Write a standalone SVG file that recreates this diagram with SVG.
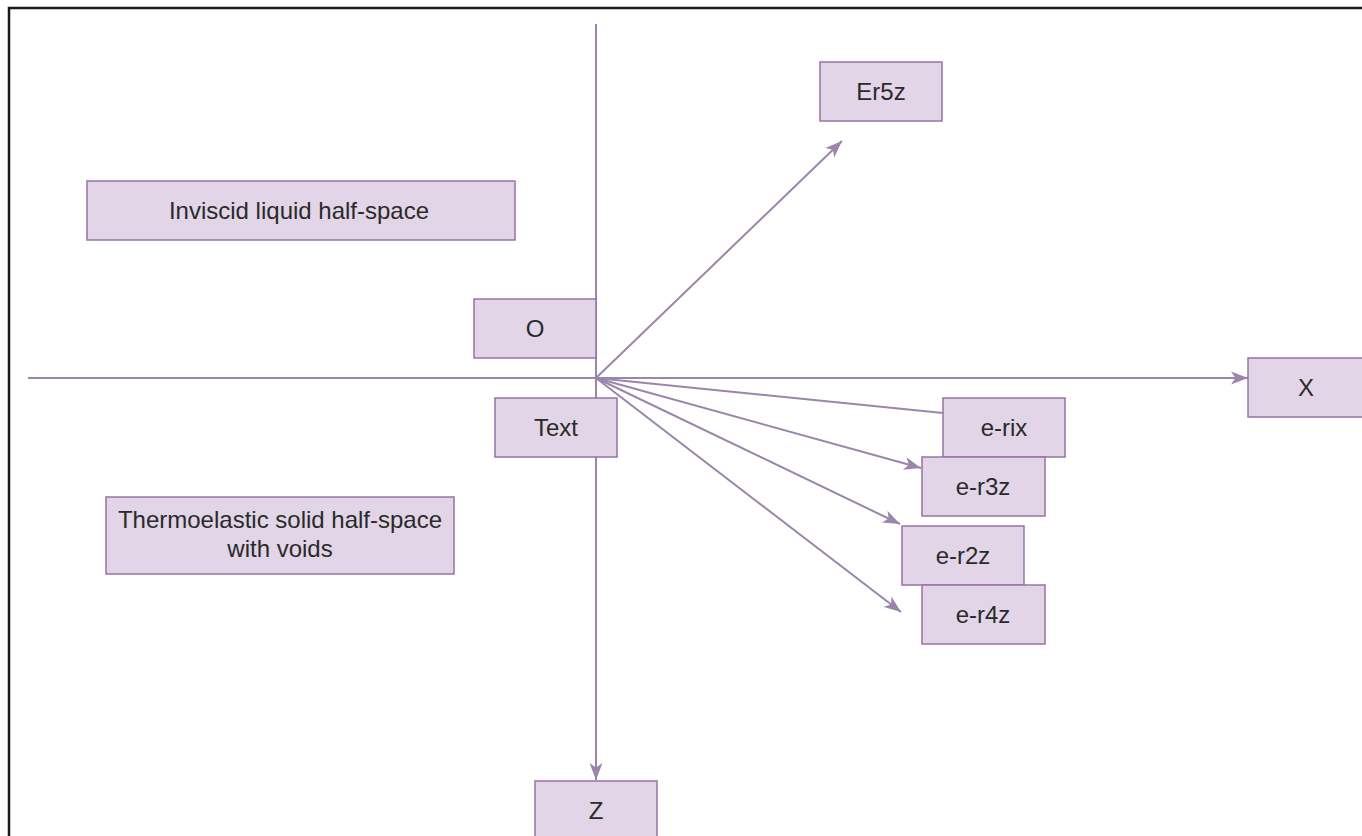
<svg xmlns="http://www.w3.org/2000/svg" width="1362" height="836" viewBox="0 0 1362 836">
<defs>
<style>
.box{fill:#e1d5e7;stroke:#9673a6;stroke-width:1.5}
.lbl{font-family:"Liberation Sans",Arial,sans-serif;font-size:24px;fill:#2a2a2a;text-anchor:middle}
.ln{fill:none;stroke:#9a86aa;stroke-width:2}
</style>
<marker id="arr" markerUnits="userSpaceOnUse" markerWidth="18" markerHeight="14" refX="17" refY="7" orient="auto" viewBox="0 0 18 14">
<path d="M0,0.5 L17,7 L0,13.5 L4.5,7 Z" fill="#9a86aa"/>
</marker>
</defs>
<rect x="0" y="0" width="1362" height="836" fill="#ffffff"/>
<path d="M9,836 L9,8 L1362,8" fill="none" stroke="#1a1a1a" stroke-width="2.5"/>
<g id="connectors">
<line class="ln" x1="596" y1="24" x2="596" y2="780" marker-end="url(#arr)"/>
<line class="ln" x1="28" y1="378" x2="1248" y2="378" marker-end="url(#arr)"/>
<line class="ln" x1="596" y1="378" x2="842" y2="141" marker-end="url(#arr)"/>
<line class="ln" x1="596" y1="378" x2="943" y2="413"/>
<line class="ln" x1="596" y1="378" x2="921" y2="468" marker-end="url(#arr)"/>
<line class="ln" x1="596" y1="378" x2="900" y2="524" marker-end="url(#arr)"/>
<line class="ln" x1="596" y1="378" x2="901" y2="612" marker-end="url(#arr)"/>
</g>
<g id="inviscid"><rect class="box" x="87" y="181" width="428" height="59"/><text class="lbl" x="299" y="219">Inviscid liquid half-space</text></g>
<g id="thermo"><rect class="box" x="106" y="497" width="348" height="77"/><text class="lbl" x="280" y="528">Thermoelastic solid half-space</text><text class="lbl" x="280" y="557">with voids</text></g>
<g id="O"><rect class="box" x="474" y="299" width="122" height="59"/><text class="lbl" x="535" y="337">O</text></g>
<g id="Text"><rect class="box" x="495" y="398" width="122" height="59"/><text class="lbl" x="556" y="436">Text</text></g>
<g id="Z"><rect class="box" x="535" y="781" width="122" height="60"/><text class="lbl" x="596" y="819">Z</text></g>
<g id="X"><rect class="box" x="1248" y="358" width="122" height="59"/><text class="lbl" x="1306" y="396">X</text></g>
<g id="Er5z"><rect class="box" x="820" y="62" width="122" height="59"/><text class="lbl" x="881" y="100">Er5z</text></g>
<g id="e-rix"><rect class="box" x="943" y="398" width="122" height="59"/><text class="lbl" x="1004" y="436">e-rix</text></g>
<g id="e-r3z"><rect class="box" x="922" y="457" width="123" height="59"/><text class="lbl" x="983" y="495">e-r3z</text></g>
<g id="e-r2z"><rect class="box" x="902" y="526" width="122" height="59"/><text class="lbl" x="963" y="564">e-r2z</text></g>
<g id="e-r4z"><rect class="box" x="922" y="585" width="123" height="59"/><text class="lbl" x="983" y="623">e-r4z</text></g>
</svg>
